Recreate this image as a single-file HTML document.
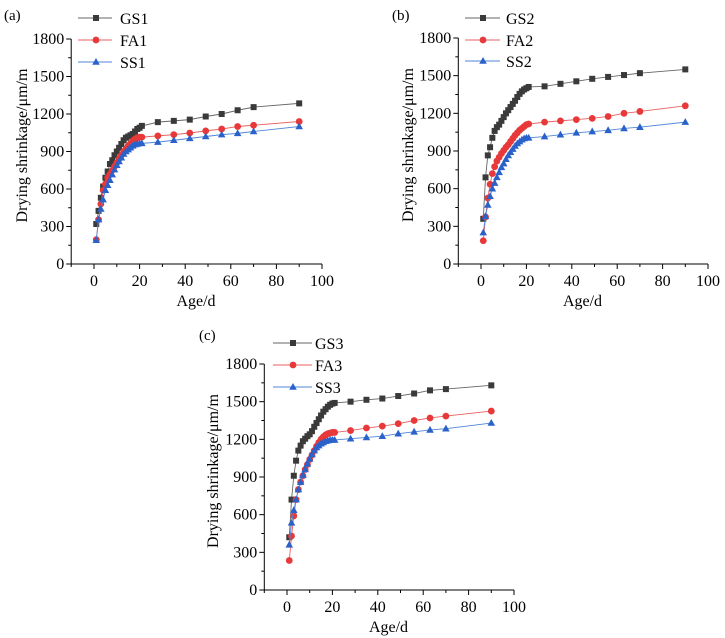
<!DOCTYPE html>
<html><head><meta charset="utf-8"><style>
body{margin:0;background:#fff;}
svg{display:block;font-family:"Liberation Serif",serif;}
</style></head><body>
<svg id="chart" width="725" height="638" viewBox="0 0 725 638"></svg>
<script>
const ages = [1,2,3,4,5,6,7,8,9,10,11,12,13,14,15,16,17,18,19,20,21,28,35,42,49,56,63,70,90];
const xTicks = [0,20,40,60,80,100];
const yTicks = [0,300,600,900,1200,1500,1800];
const gs1 = [320,425,530,620,690,740,800,830,870,900,930,960,990,1010,1020,1030,1040,1060,1080,1090,1105,1135,1145,1155,1180,1200,1230,1255,1285];
const fa1 = [195,355,480,590,640,690,720,750,780,810,840,870,900,920,945,965,985,1000,1010,1015,1015,1025,1035,1048,1065,1080,1100,1110,1140];
const ss1 = [190,355,440,515,590,630,670,715,755,790,820,850,880,900,915,930,945,955,960,965,965,975,990,1005,1020,1035,1045,1060,1100];
const gs2 = [360,690,865,930,1005,1060,1090,1110,1140,1170,1200,1225,1250,1275,1300,1330,1355,1375,1390,1400,1410,1415,1435,1455,1475,1490,1505,1520,1550];
const fa2 = [185,375,525,635,720,775,820,850,880,905,930,950,975,1000,1025,1045,1065,1080,1095,1110,1115,1130,1140,1150,1160,1175,1200,1215,1260];
const ss2 = [250,380,470,540,600,645,690,730,770,800,835,865,890,915,940,960,975,990,1000,1005,1005,1015,1030,1045,1055,1065,1080,1090,1130];
const gs3 = [420,720,910,1030,1110,1150,1185,1205,1225,1240,1265,1300,1330,1360,1390,1420,1440,1460,1475,1485,1490,1500,1515,1525,1545,1565,1590,1600,1630];
const fa3 = [235,430,590,720,800,860,910,960,1000,1040,1075,1110,1145,1175,1200,1220,1235,1245,1250,1255,1255,1270,1290,1305,1325,1350,1370,1385,1425];
const ss3 = [360,535,635,720,800,860,915,960,1005,1045,1080,1110,1135,1150,1165,1175,1185,1190,1195,1195,1195,1205,1215,1225,1245,1260,1275,1285,1330];

const NS='http://www.w3.org/2000/svg';
const svg=document.getElementById('chart');
function mk(tag,attrs,parent,text){const e=document.createElementNS(NS,tag);for(const k in attrs)e.setAttribute(k,attrs[k]);if(text!==undefined)e.textContent=text;(parent||svg).appendChild(e);return e;}
const styles={gs:{c:'#3a3a3a',l:'#666',m:'sq'},fa:{c:'#e8393a',l:'#e86060',m:'ci'},ss:{c:'#2a62c9',l:'#4f86d8',m:'tri'}};
function marker(g,kind,x,y,c){
  let e;
  if(kind==='sq') e=mk('rect',{x:x-3,y:y-3,width:6,height:6,fill:c},g);
  else if(kind==='ci') e=mk('circle',{cx:x,cy:y,r:3.4,fill:c},g);
  else e=mk('polygon',{points:`${x},${y-4} ${x-3.8},${y+2.8} ${x+3.8},${y+2.8}`,fill:c},g);
  return e;
}
const panels=[
 {id:'a',x0:94,x100:322,y0:264,y1800:39,label:'(a)',lx:4,ly:20,titleX:22,leg:{l1:78,l2:112,mx:96,tx:120,ys:[18,40,62]},
  series:[['gs',gs1,'GS1'],['fa',fa1,'FA1'],['ss',ss1,'SS1']]},
 {id:'b',x0:481,x100:708,y0:264,y1800:38,label:'(b)',lx:392,ly:20,titleX:408,leg:{l1:465,l2:500,mx:483,tx:506,ys:[18,40,61]},
  series:[['gs',gs2,'GS2'],['fa',fa2,'FA2'],['ss',ss2,'SS2']]},
 {id:'c',x0:287,x100:514,y0:590,y1800:364,label:'(c)',lx:199,ly:340,titleX:213,leg:{l1:273,l2:312,mx:293,tx:315,ys:[343,365,387]},
  series:[['gs',gs3,'GS3'],['fa',fa3,'FA3'],['ss',ss3,'SS3']]}
];
panels.forEach(p=>{
  const g=mk('g',{});
  
  
  const X=v=>p.x0+(p.x100-p.x0)*v/100;
  const Y=v=>p.y0-(p.y0-p.y1800)*v/1800;
  const xl=X(-10), xr=X(100);
  const t=mk('text',{x:p.lx,y:p.ly,'font-size':15,fill:'#000'},g,p.label);
  
  
  // axes
  const xa=mk('line',{x1:xl,y1:p.y0,x2:xr,y2:p.y0,stroke:'#000','stroke-width':1},g);
  
  
  const ya=mk('line',{x1:xl,y1:p.y0,x2:xl,y2:Y(1800),stroke:'#000','stroke-width':1},g);
  
  
  for(let v=-10;v<=100;v+=10){const major=v%20===0;mk('line',{x1:X(v),y1:p.y0,x2:X(v),y2:p.y0+(major?5:3),stroke:'#000'},g);}
  xTicks.forEach(v=>{const tl=mk('text',{x:X(v),y:p.y0+22,'font-size':16,'text-anchor':'middle'},g,v);
    
    });
  for(let v=0;v<=1800;v+=150){const major=v%300===0;mk('line',{x1:xl,y1:Y(v),x2:xl-(major?5:3),y2:Y(v),stroke:'#000'},g);}
  yTicks.forEach(v=>{const tl=mk('text',{x:xl-7,y:Y(v)+5,'font-size':16,'text-anchor':'end'},g,v);
    
    });
  const xt=mk('text',{x:(X(0)+X(100))/2-12,y:p.y0+42,'font-size':16,'text-anchor':'middle'},g,'Age/d');
  
  
  const cy=(p.y0+Y(1800))/2-6;
  const yt=mk('text',{x:p.titleX,y:cy,'font-size':16,'text-anchor':'middle',transform:`rotate(-90 ${p.titleX} ${cy})`,dy:5},g,'Drying shrinkage/μm/m');
  
  
  p.series.forEach((s,si)=>{
    const st=styles[s[0]];
    const sg=mk('g',{},g);
    
    
    const pts=ages.map((a,i)=>X(a)+','+Y(s[1][i])).join(' ');
    mk('polyline',{points:pts,fill:'none',stroke:st.l,'stroke-width':0.9},sg);
    ages.forEach((a,i)=>{const m=marker(sg,st.m,X(a),Y(s[1][i]),st.c);
      
      });
    const lg=mk('g',{},g);
    
    
    const ly=p.leg.ys[si];
    mk('line',{x1:p.leg.l1,y1:ly,x2:p.leg.l2,y2:ly,stroke:st.l,'stroke-width':0.9},lg);
    marker(lg,st.m,p.leg.mx,ly,st.c);
    mk('text',{x:p.leg.tx,y:ly+6,'font-size':16},lg,s[2]);
  });
});
</script>
</body></html>
